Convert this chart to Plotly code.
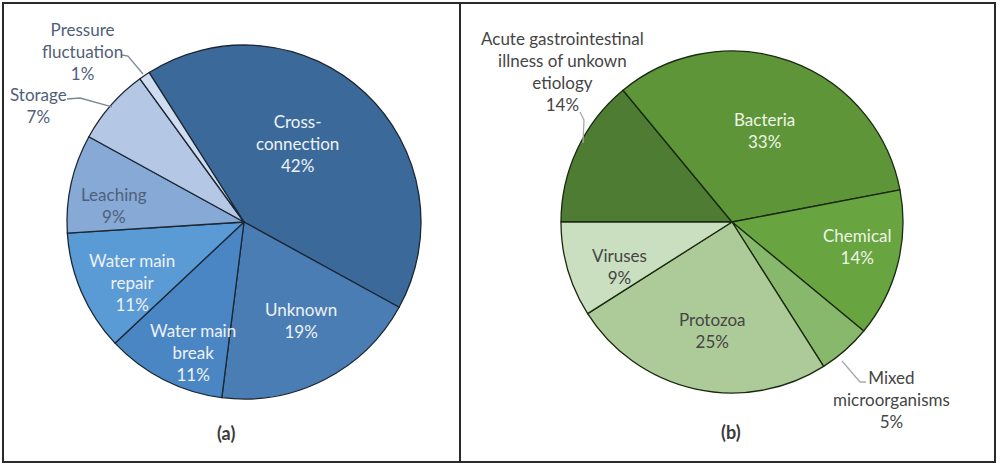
import plotly.graph_objects as go

W, H = 1000, 467

# ---- data ----
a_labels = ["Cross-connection", "Unknown", "Water main break", "Water main repair",
            "Leaching", "Storage", "Pressure fluctuation"]
a_values = [42, 19, 11, 11, 9, 7, 1]
a_colors = ["#3b6a9a", "#4a7db3", "#4a86c4", "#5a9ad5", "#86a9d6", "#b4c8e6", "#d0ddf0"]
a_text = ["Cross-<br>connection<br>42%", "Unknown<br>19%", "Water main<br>break<br>11%",
          "Water main<br>repair<br>11%", "Leaching<br>9%", "Storage<br>7%",
          "Pressure<br>fluctuation<br>1%"]

b_labels = ["Acute gastrointestinal illness of unkown etiology", "Bacteria", "Chemical",
            "Mixed microorganisms", "Protozoa", "Viruses"]
b_values = [14, 33, 14, 5, 25, 9]
b_colors = ["#4e7c32", "#5e9539", "#68a43f", "#88b86b", "#adcb98", "#cadfbf"]
b_text = ["Acute gastrointestinal<br>illness of unkown<br>etiology<br>14%", "Bacteria<br>33%",
          "Chemical<br>14%", "Mixed<br>microorganisms<br>5%", "Protozoa<br>25%", "Viruses<br>9%"]


def px(x, y):
    return x / W, 1 - y / H


def dom(cx, cy, r):
    return dict(x=[(cx - r) / W, (cx + r) / W], y=[(H - cy - r) / H, (H - cy + r) / H])


fig = go.Figure()
fig.add_trace(go.Pie(labels=a_labels, values=a_values, sort=False, direction="clockwise",
                     rotation=-32.4, textinfo="none", hoverinfo="label+percent",
                     marker=dict(colors=a_colors, line=dict(color="#1c2733", width=1.3)),
                     domain=dom(244, 222, 177), showlegend=False))
fig.add_trace(go.Pie(labels=b_labels, values=b_values, sort=False, direction="clockwise",
                     rotation=270, textinfo="none", hoverinfo="label+percent",
                     marker=dict(colors=b_colors, line=dict(color="#1a2a10", width=1.3)),
                     domain=dom(732, 222, 171), showlegend=False))

FONT = "Lato"
light_a = "#eef2f7"
dark_a = "#50607a"
light_b = "#eef5e6"
dark_b = "#454545"

a_pos = [(297, 143), (301, 320), (193, 352), (132, 282), (114, 205), (38, 106), (82, 51)]
a_tc = [light_a, light_a, light_a, light_a, dark_a, dark_a, dark_a]
b_pos = [(562, 71), (764, 130), (857, 246), (891, 399), (712, 330), (619, 266)]
b_tc = [dark_b, light_b, light_b, dark_b, dark_b, dark_b]

anns = []
for t, (x, y), c in zip(a_text + b_text, a_pos + b_pos, a_tc + b_tc):
    xx, yy = px(x, y)
    anns.append(dict(x=xx, y=yy, xref="paper", yref="paper", text=t, showarrow=False,
                     xanchor="center", yanchor="middle",
                     font=dict(family=FONT, size=17, color=c), align="center"))
for t, (x, y) in [("(a)", (226, 433)), ("(b)", (731, 432))]:
    xx, yy = px(x, y)
    anns.append(dict(x=xx, y=yy, xref="paper", yref="paper", text="<b>" + t + "</b>",
                     xanchor="center", yanchor="middle",
                     showarrow=False, font=dict(family=FONT, size=18, color="#3a3a3a")))

shapes = []
# panel borders
for x0, x1 in [(3, 460), (460, 995)]:
    a0, b0 = px(x0, 462)
    a1, b1 = px(x1, 3)
    shapes.append(dict(type="rect", xref="paper", yref="paper", x0=a0, y0=b0, x1=a1, y1=b1,
                       line=dict(color="#2a2a2a", width=2)))
# leader lines
leaders = [
    [(122, 55), (128, 56), (143, 74)],
    [(67, 99), (80, 98), (112, 107)],
    [(580, 112), (584, 120), (583, 143)],
    [(842, 361), (860, 382), (866, 382)],
]
for pts in leaders:
    path = ""
    for i, (x, y) in enumerate(pts):
        xx, yy = px(x, y)
        path += ("M" if i == 0 else " L") + f"{xx:.4f},{yy:.4f}"
    col = "#7d8794" if pts[0][0] < 460 else "#a8a8a8"
    shapes.append(dict(type="path", xref="paper", yref="paper", path=path,
                       line=dict(color=col, width=1.3)))

fig.update_layout(width=W, height=H, margin=dict(l=0, r=0, t=0, b=0),
                  paper_bgcolor="white", plot_bgcolor="white",
                  annotations=anns, shapes=shapes)
fig.write_html("out.html", config={"displayModeBar": False},
               post_script="document.body.style.margin='0';document.body.style.overflow='hidden';")
